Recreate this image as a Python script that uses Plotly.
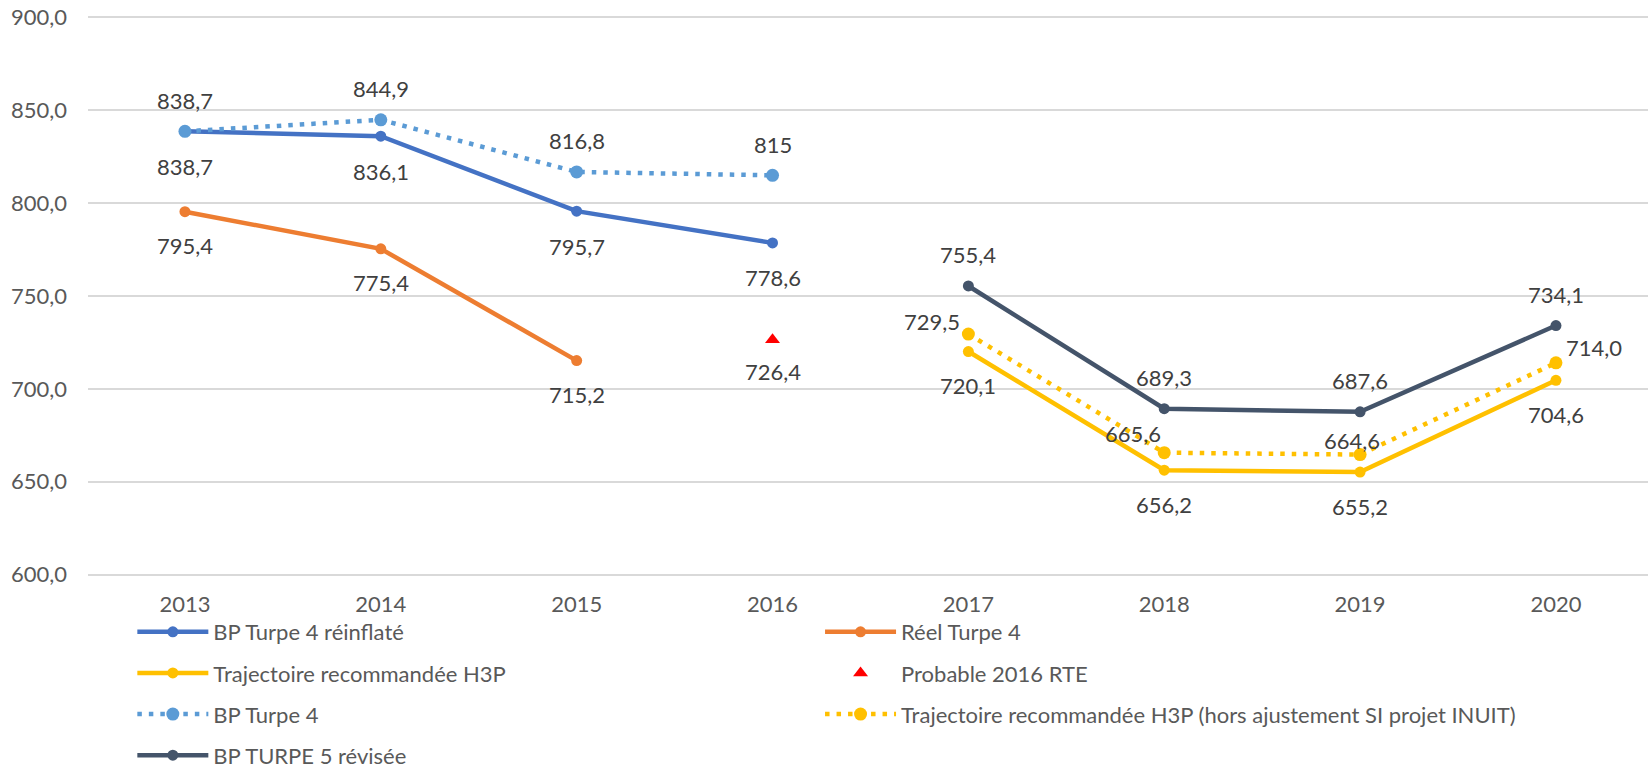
import plotly.graph_objects as go

years = [2013, 2014, 2015, 2016, 2017, 2018, 2019, 2020]
year_labels = ["2013", "2014", "2015", "2016", "2017", "2018", "2019", "2020"]

reinflate_years = [2013, 2014, 2015, 2016]
reinflate_vals = [838.7, 836.1, 795.7, 778.6]

reel_years = [2013, 2014, 2015]
reel_vals = [795.4, 775.4, 715.2]

bp4_years = [2013, 2014, 2015, 2016]
bp4_vals = [838.7, 844.9, 816.8, 815]

probable_years = [2016]
probable_vals = [726.4]

traj_years = [2017, 2018, 2019, 2020]
traj_vals = [720.1, 656.2, 655.2, 704.6]

hors_years = [2017, 2018, 2019, 2020]
hors_vals = [729.5, 665.6, 664.6, 714.0]

turpe5_years = [2017, 2018, 2019, 2020]
turpe5_vals = [755.4, 689.3, 687.6, 734.1]

FONT = "Lato"
FS = 22
C_BLUE = "#4472C4"
C_ORANGE = "#ED7D31"
C_YELLOW = "#FFC000"
C_LBLUE = "#5B9BD5"
C_DARK = "#44546A"
C_RED = "#FF0000"


def fmt(v):
    if isinstance(v, int):
        return str(v)
    return f"{v:.1f}".replace(".", ",")


fig = go.Figure()

def add_line(xs, ys, name, color, legend, dotted=False, msize=11):
    fig.add_trace(go.Scatter(
        x=xs, y=ys, name=name, mode="lines+markers",
        line=dict(color=color, width=4.5, dash="4.5px,7px" if dotted else "solid"),
        marker=dict(color=color, size=msize),
        legend=legend, legendgroup=name,
    ))

add_line(reinflate_years, reinflate_vals, "BP Turpe 4 réinflaté", C_BLUE, "legend")
add_line(reel_years, reel_vals, "Réel Turpe 4", C_ORANGE, "legend2")
add_line(traj_years, traj_vals, "Trajectoire recommandée H3P", C_YELLOW, "legend")
fig.add_trace(go.Scatter(
    x=probable_years, y=probable_vals, name="Probable 2016 RTE", mode="markers",
    marker=dict(color=C_RED, size=13, symbol="triangle-up"),
    legend="legend2", legendgroup="prob",
))
add_line(bp4_years, bp4_vals, "BP Turpe 4", C_LBLUE, "legend", dotted=True, msize=13)
add_line(hors_years, hors_vals, "Trajectoire recommandée H3P (hors ajustement SI projet INUIT)",
         C_YELLOW, "legend2", dotted=True, msize=13)
add_line(turpe5_years, turpe5_vals, "BP TURPE 5 révisée", C_DARK, "legend")

annotations = []

def add_labels(xs, ys, dx, dy):
    for i, (x, y) in enumerate(zip(xs, ys)):
        ddx = dx[i] if isinstance(dx, list) else dx
        ddy = dy[i] if isinstance(dy, list) else dy
        annotations.append(dict(
            x=x, y=y, text=fmt(y), showarrow=False, xshift=ddx, yshift=ddy,
            font=dict(family=FONT, size=FS, color="#404040"),
        ))

add_labels(reinflate_years, reinflate_vals, 0, -35)
add_labels(reel_years, reel_vals, 0, -34)
add_labels(bp4_years, bp4_vals, 0, 31)
add_labels(probable_years, probable_vals, 0, -32)
add_labels(traj_years, traj_vals, 0, -34)
add_labels(hors_years, hors_vals, [-36, -31, -8, 38], [13, 19, 14, 15])
add_labels(turpe5_years, turpe5_vals, 0, 31)

legend_common = dict(
    xanchor="left", yanchor="top", xref="container", yref="container",
    orientation="v", traceorder="grouped", tracegroupgap=9.5,
    itemwidth=71, font=dict(family=FONT, size=FS, color="#595959"),
    bgcolor="rgba(0,0,0,0)",
)

fig.update_layout(
    width=1648, height=777,
    margin=dict(l=88, r=0, t=16, b=201, autoexpand=False),
    paper_bgcolor="white", plot_bgcolor="white",
    separators=", ",
    font=dict(family=FONT, size=FS, color="#595959"),
    annotations=annotations,
    showlegend=True,
    legend=dict(x=0.0803, y=0.2136, **legend_common),
    legend2=dict(x=0.4976, y=0.2136, **legend_common),
    xaxis=dict(
        range=[2012.505, 2020.47], tickmode="array", tickvals=years, ticktext=year_labels,
        showgrid=False, zeroline=False, showline=False, ticks="", automargin=False,
        tickfont=dict(family=FONT, size=FS, color="#595959"),
        ticklabelstandoff=13,
    ),
    yaxis=dict(
        range=[599.2, 900.8], tickmode="array", tickvals=[600, 650, 700, 750, 800, 850, 900],
        tickformat=".1f", automargin=False,
        showgrid=True, gridcolor="#D9D9D9", gridwidth=1.5, zeroline=False, showline=False,
        ticks="", tickfont=dict(family=FONT, size=FS, color="#595959"),
        ticklabelstandoff=20,
    ),
)

fig.write_html(
    "out.html",
    config={"displayModeBar": False},
    post_script="document.body.style.margin='0';document.body.style.overflow='hidden';",
)
